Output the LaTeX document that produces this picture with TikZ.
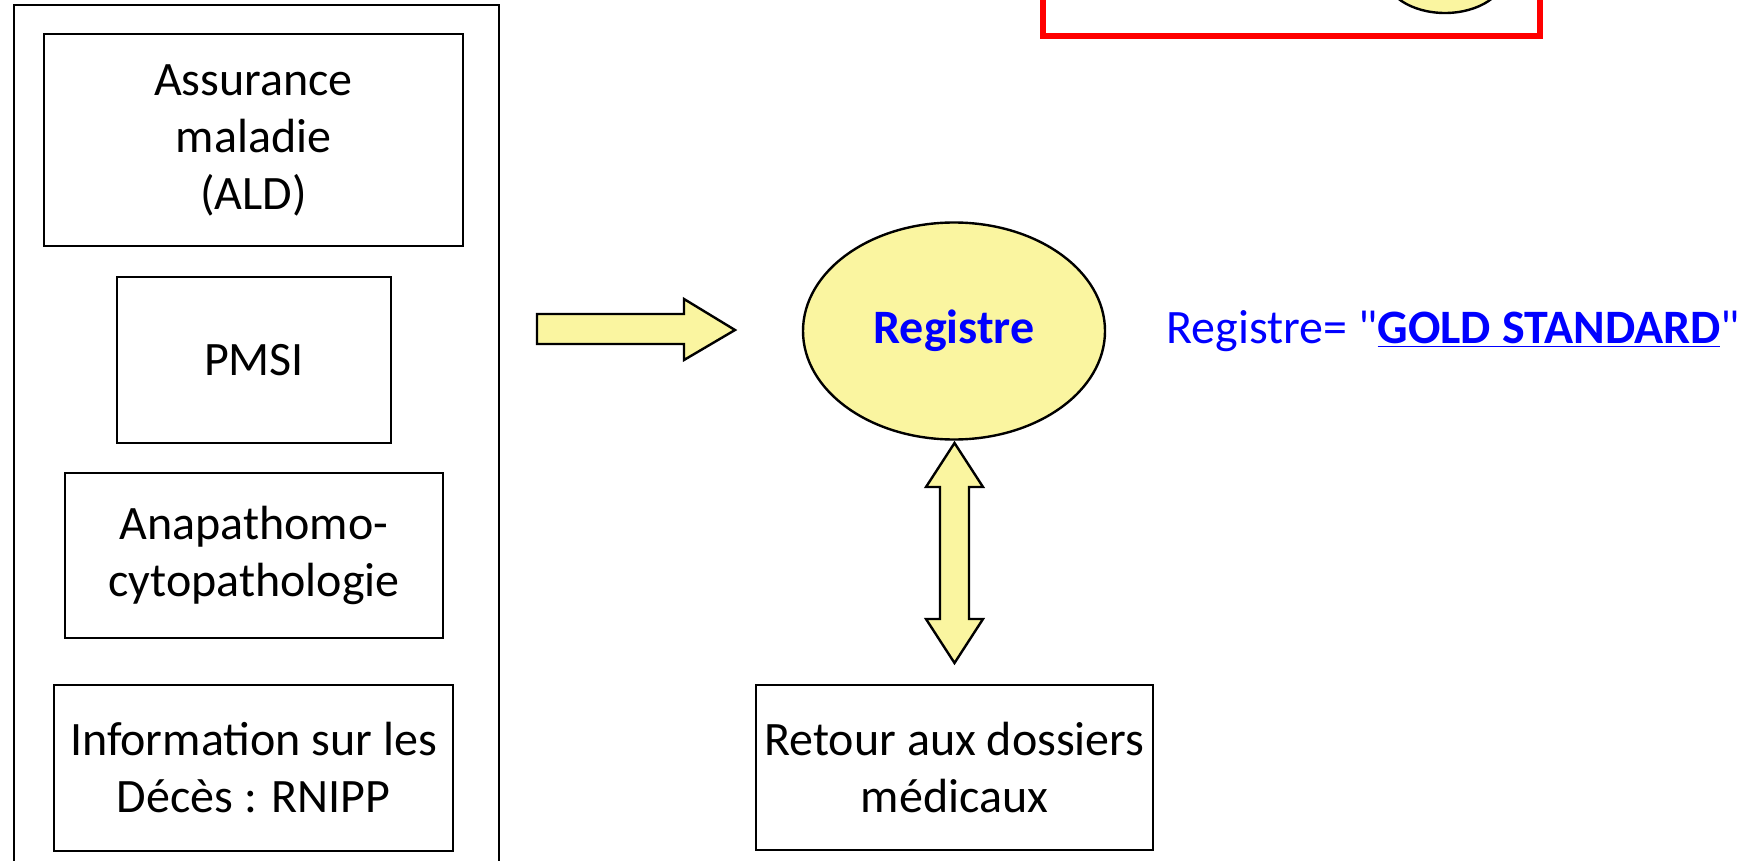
\documentclass[tikz,border=0pt]{standalone}
\usepackage{fontspec}
\setmainfont{Carlito}[Ligatures=TeXOff]
\usetikzlibrary{positioning}
\usetikzlibrary{shapes.geometric}
\definecolor{jaune}{RGB}{250,245,160}
\definecolor{bleu}{RGB}{0,0,255}

\begin{document}
\begin{tikzpicture}[x=0.5pt, y=-0.5pt,
 texte/.style={font=\fontsize{24}{28.5}\selectfont},
 boite/.style={draw, line width=1.2pt, align=center, inner sep=2pt, texte},
 fleche/.style={draw, line width=1.2pt, fill=jaune, line join=miter}]
\useasboundingbox (0,0) rectangle (1750,861);
\clip (0,0) rectangle (1750,861);
% sources
\node[draw, line width=1.2pt, minimum width=242.5pt, minimum height=450pt, inner sep=0] (sources) at (256.5,455) {};
\node[boite, minimum width=209.5pt, minimum height=106pt] (ald) at (253.5,140) {Assurance\\maladie\\(ALD)};
\node[boite, minimum width=137pt, minimum height=83pt] (pmsi) at (254,360) {PMSI};
\node[boite, minimum width=189pt, minimum height=82.5pt] (anapath) at (254,555.5) {Anapathomo-\\cytopathologie};
\node[boite, minimum width=199.5pt, minimum height=83pt] (deces) at (253.5,768) {Information sur les\\D\'ec\`es : RNIPP};
% registre
\node[ellipse, draw, line width=1.2pt, fill=jaune, minimum width=151pt, minimum height=108.5pt, inner sep=0, texte, text=bleu] (registre) at (954,331) {\textbf{Registre}};
\node[right=30pt of registre, texte, text=bleu, inner sep=0] (gold) {Registre= "\textbf{\underline{GOLD STANDARD}}"};
\node[boite, minimum width=198.5pt, minimum height=82.5pt, inner sep=0] (retour) at (954.5,767.5) {Retour aux dossiers\\m\'edicaux};
% fleches
\draw[fleche] (537,314) -- (684,314) -- (684,299) -- (735,330) -- (684,360) -- (684,344) -- (537,344) -- cycle;
\draw[fleche] (954.5,443) -- (983,487) -- (969,487) -- (969,619) -- (983,619) -- (954.5,663)
 -- (926,619) -- (940,619) -- (940,487) -- (926,487) -- cycle;
% cadre rouge
\draw[red, line width=3pt] (1043,-100) rectangle (1540,36);
\draw[line width=1.2pt, fill=jaune] (1445,-27) ellipse [x radius=61, y radius=40];
\end{tikzpicture}
\end{document}
